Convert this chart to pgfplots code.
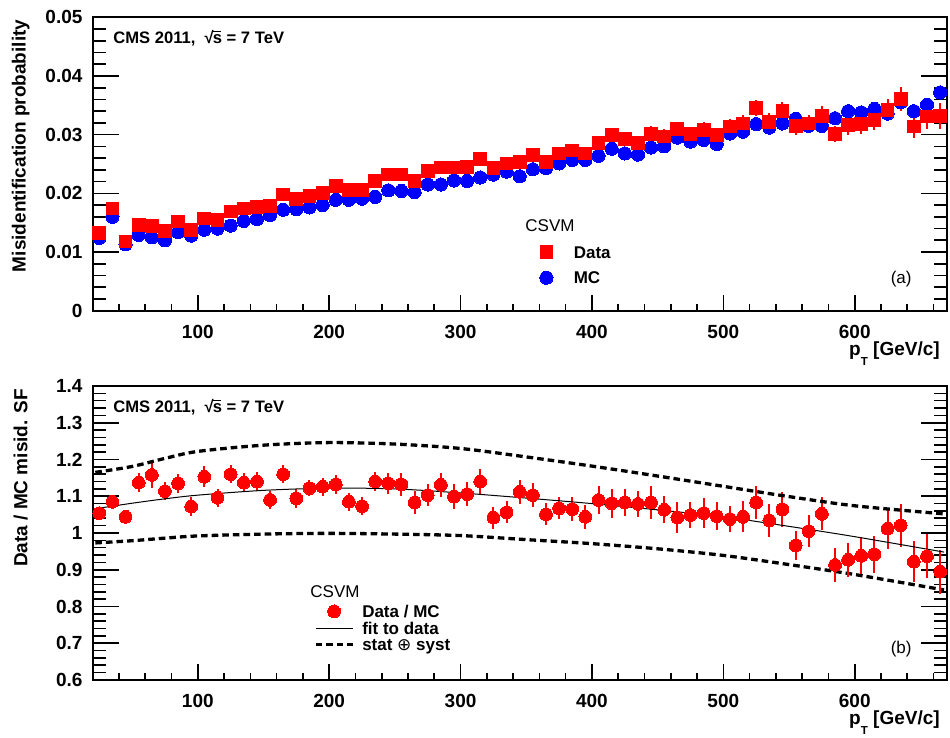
\documentclass[border=0pt]{standalone}
\usepackage{fontspec}
\setmainfont{Liberation Sans}
\newfontfamily\djv{DejaVu Sans}
\usepackage{pgfplots}
\pgfplotsset{compat=1.18}
\usepackage{pgfplotstable}

\newcommand{\rts}{\char"221A\kern-0.06em\rlap{\rule[0.68em]{0.52em}{0.07em}}s}
\newcommand{\ticksize}{\fontsize{9.5}{11}\selectfont\bfseries}
\newcommand{\legsize}{\fontsize{8.5}{10}\selectfont}

% misidentification probability per 10 GeV bin: pt, data, data error, MC
\pgfplotstableread{
x    data    derr    mc
25   0.0132  0.0004  0.0124
35   0.0174  0.0004  0.0160
45   0.0118  0.0004  0.0113
55   0.0146  0.0004  0.0129
65   0.0144  0.0004  0.0125
75   0.0136  0.0004  0.0120
85   0.0152  0.0005  0.0134
95   0.0138  0.0005  0.0128
105  0.0157  0.0005  0.0138
115  0.0155  0.0005  0.0140
125  0.0169  0.0005  0.0145
135  0.0174  0.0005  0.0153
145  0.0177  0.0005  0.0156
155  0.0178  0.0005  0.0163
165  0.0198  0.0006  0.0172
175  0.0190  0.0006  0.0173
185  0.0195  0.0006  0.0176
195  0.0201  0.0006  0.0180
205  0.0212  0.0006  0.0189
215  0.0206  0.0006  0.0189
225  0.0206  0.0007  0.0191
235  0.0221  0.0007  0.0194
245  0.0232  0.0007  0.0205
255  0.0232  0.0007  0.0204
265  0.0221  0.0007  0.0202
275  0.0238  0.0008  0.0215
285  0.0244  0.0008  0.0215
295  0.0244  0.0008  0.0222
305  0.0245  0.0008  0.0221
315  0.0258  0.0008  0.0227
325  0.0243  0.0009  0.0232
335  0.0251  0.0009  0.0237
345  0.0254  0.0009  0.0229
355  0.0266  0.0009  0.0241
365  0.0254  0.0009  0.0243
375  0.0268  0.0010  0.0251
385  0.0273  0.0010  0.0257
395  0.0268  0.0010  0.0257
405  0.0286  0.0011  0.0264
415  0.0299  0.0011  0.0276
425  0.0292  0.0011  0.0268
435  0.0286  0.0011  0.0266
445  0.0301  0.0013  0.0278
455  0.0297  0.0012  0.0280
465  0.0309  0.0012  0.0295
475  0.0301  0.0012  0.0288
485  0.0308  0.0013  0.0291
495  0.0299  0.0013  0.0284
505  0.0314  0.0013  0.0302
515  0.0319  0.0014  0.0305
525  0.0345  0.0014  0.0318
535  0.0322  0.0015  0.0312
545  0.0340  0.0016  0.0319
555  0.0315  0.0015  0.0327
565  0.0319  0.0015  0.0315
575  0.0332  0.0016  0.0315
585  0.0301  0.0014  0.0328
595  0.0316  0.0016  0.0340
605  0.0318  0.0017  0.0338
615  0.0325  0.0017  0.0344
625  0.0342  0.0018  0.0336
635  0.0361  0.0021  0.0355
645  0.0314  0.0019  0.0340
655  0.0331  0.0021  0.0351
665  0.0332  0.0022  0.0372
}\topdata

% data/MC scale factor
\pgfplotstableread{
x    sf     err
25   1.054  0.015
35   1.085  0.015
45   1.044  0.015
55   1.137  0.025
65   1.158  0.035
75   1.114  0.025
85   1.135  0.025
95   1.072  0.025
105  1.153  0.028
115  1.096  0.025
125  1.160  0.025
135  1.137  0.025
145  1.140  0.025
155  1.090  0.025
165  1.160  0.025
175  1.094  0.025
185  1.122  0.022
195  1.126  0.025
205  1.132  0.025
215  1.085  0.025
225  1.073  0.025
235  1.140  0.025
245  1.135  0.028
255  1.132  0.030
265  1.083  0.030
275  1.103  0.030
285  1.131  0.033
295  1.099  0.033
305  1.106  0.033
315  1.140  0.035
325  1.042  0.030
335  1.056  0.030
345  1.112  0.032
355  1.103  0.033
365  1.051  0.030
375  1.067  0.030
385  1.065  0.033
395  1.044  0.033
405  1.090  0.038
415  1.081  0.040
425  1.083  0.037
435  1.079  0.035
445  1.083  0.045
455  1.063  0.037
465  1.042  0.043
475  1.049  0.035
485  1.054  0.040
495  1.046  0.037
505  1.038  0.035
515  1.044  0.042
525  1.083  0.045
535  1.034  0.045
545  1.064  0.048
555  0.966  0.040
565  1.005  0.043
575  1.052  0.045
585  0.913  0.045
595  0.927  0.047
605  0.938  0.050
615  0.942  0.050
625  1.012  0.055
635  1.021  0.058
645  0.922  0.055
655  0.937  0.060
665  0.895  0.060
}\sfdata

\pgfplotstableread{
x    fit    up     lo
22   1.066  1.165  0.973
50   1.081  1.181  0.979
75   1.093  1.203  0.986
100  1.103  1.222  0.992
150  1.116  1.239  0.997
200  1.122  1.246  0.999
250  1.120  1.242  0.997
300  1.109  1.230  0.993
350  1.095  1.207  0.982
400  1.080  1.182  0.971
450  1.063  1.155  0.957
500  1.044  1.127  0.939
550  1.018  1.099  0.914
600  0.990  1.074  0.887
668  0.948  1.052  0.845
}\bandtab

\pgfplotsset{
  rootaxis/.style={
    scale only axis, width=427pt,
    xmin=20, xmax=670,
    axis line style={line width=1.1pt},
    tick align=inside,
    xtick pos=left, ytick pos=both,
    xtick={0,100,...,700},
    minor x tick num=4, minor y tick num=4,
    scaled y ticks=false,
    tick style={line width=0.8pt, black},
    xtick style={/pgfplots/major tick length=7.85pt,/pgfplots/minor tick length=3.5pt},
    ytick style={/pgfplots/major tick length=13pt,/pgfplots/minor tick length=6.5pt},
    ticklabel style={font=\ticksize},
    /pgf/number format/assume math mode=true,
    xticklabel shift=3.5pt,
    yticklabel shift=1.6pt,
    legend style={draw=none, fill=none, inner sep=0pt, outer sep=0pt,
      font=\legsize\bfseries, cells={anchor=base west}, column sep=0pt,
      nodes={inner sep=0pt}},
  },
  ptlabel/.style={xlabel={p\raisebox{-5pt}{\fontsize{5.8}{6}\selectfont T} [GeV/c]},
    xlabel style={at={(rel axis cs:1,0)}, anchor=base east, inner sep=0pt,
      yshift=-22.2pt, xshift=-3.3pt, font=\ticksize}},
  legmarkA/.style={legend image code/.code={\path (-13.5pt,3pt) (13.5pt,3pt);
    \draw[##1] plot coordinates {(0pt,3pt)};}},
  legmarkB/.style={legend image code/.code={\path (-9.25pt,3pt) (13.25pt,3pt);
    \draw[##1] plot coordinates {(0pt,3pt)};}},
  leglineB/.style={legend image code/.code={\path (-9.25pt,3pt) (13.25pt,3pt);
    \draw[##1] (-9.25pt,3pt) -- (9.25pt,3pt);}},
  redsq/.style={only marks, red, mark=square*, mark size=3.2pt,
    mark options={draw=red, fill=red, line width=0pt}},
  bluedot/.style={only marks, blue, mark=*, mark size=3.3pt,
    mark options={draw=blue, fill=blue, line width=0pt}},
  reddot/.style={only marks, red, mark=*, mark size=3.2pt,
    mark options={draw=red, fill=red, line width=0pt}},
  rooterr/.style={error bars/.cd, y dir=both, y explicit,
    error bar style={red, line width=1pt}, error mark=none},
  banddash/.style={smooth, line width=1.65pt, dash pattern=on 3.3pt off 2pt, black},
}

\begin{document}
\begin{tikzpicture}
% ---- (a) misidentification probability
\begin{axis}[rootaxis, ptlabel, legmarkA,
  at={(46.35pt,213.65pt)}, anchor=south west, height=146.7pt,
  ymin=0, ymax=0.05,
  ytick={0,0.01,0.02,0.03,0.04,0.05},
  yticklabels={0,0.01,0.02,0.03,0.04,0.05},
  legend style={at={(rel axis cs:0.4992,0.2205)}, anchor=north west, row sep=4.85pt},
]
\addplot[bluedot, forget plot] table[x=x, y=mc] {\topdata};
\addplot[redsq, rooterr] table[x=x, y=data, y error=derr] {\topdata};
\addlegendentry{Data}
\addlegendimage{bluedot}
\addlegendentry{MC}
\end{axis}

% ---- (b) data / MC scale factor
\begin{axis}[rootaxis, ptlabel,
  at={(46.35pt,29pt)}, anchor=south west, height=147pt,
  ymin=0.6, ymax=1.4,
  ytick={0.6,0.7,0.8,0.9,1,1.1,1.2,1.3,1.4},
  yticklabels={0.6,0.7,0.8,0.9,1,1.1,1.2,1.3,1.4},
  legend style={at={(rel axis cs:0.2591,0.2551)}, anchor=north west, row sep=1pt},
]
\addplot[banddash, forget plot] table[x=x, y=lo] {\bandtab};
\addplot[legmarkB, reddot, rooterr] table[x=x, y=sf, y error=err] {\sfdata};
\addlegendentry{Data / MC}
\addplot[leglineB, smooth, line width=0.5pt, black] table[x=x, y=fit] {\bandtab};
\addlegendentry{fit to data}
\addplot[leglineB, banddash] table[x=x, y=up] {\bandtab};
\addlegendentry{stat {\djv\mdseries ⊕} syst}
\end{axis}

% ---- texts around the panels
\begin{scope}[every node/.style={inner sep=0pt}]
\node[anchor=base west, font=\fontsize{8.3}{10}\selectfont\bfseries] at (56.5pt,347.15pt) {CMS 2011,\ \ \rts{} = 7 TeV};
\node[anchor=base west, font=\fontsize{8.3}{10}\selectfont\bfseries] at (56.5pt,162.65pt) {CMS 2011,\ \ \rts{} = 7 TeV};
\node[anchor=base west, font=\legsize] at (262.5pt,253pt) {CSVM};
\node[anchor=base west, font=\legsize] at (155pt,70.4pt) {CSVM};
\node[anchor=base east, font=\legsize] at (456pt,227.25pt) {(a)};
\node[anchor=base east, font=\legsize] at (456pt,42.1pt) {(b)};
\node[rotate=90, anchor=east, font=\ticksize] at (10.35pt,359.3pt) {Misidentification probability};
\node[rotate=90, anchor=east, font=\ticksize] at (10.35pt,174.8pt) {Data / MC misid. SF};
\end{scope}
\pgfresetboundingbox
\useasboundingbox (0pt,0pt) rectangle (475pt,369pt);
\end{tikzpicture}
\end{document}
